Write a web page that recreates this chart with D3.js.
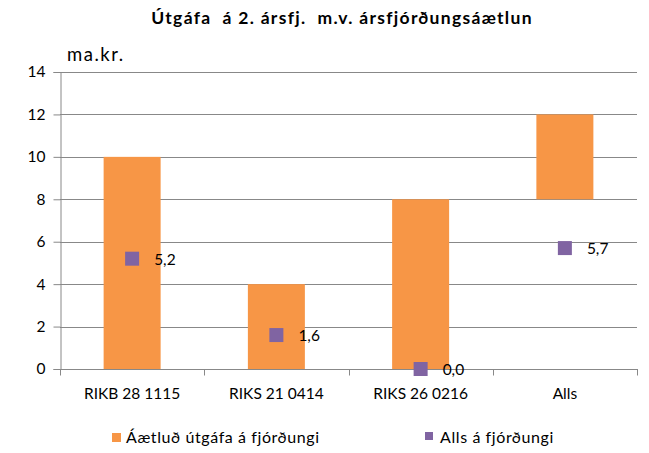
<!DOCTYPE html>
<html>
<head>
<meta charset="utf-8">
<script src="https://cdn.jsdelivr.net/npm/d3@7"></script>
<style>
  html, body { margin: 0; padding: 0; background: #fff; }
  svg { display: block; font-family: Lato, "Open Sans", sans-serif; }
  text { white-space: pre; }
</style>
</head>
<body>
<svg id="chart" width="649" height="453"></svg>
<script>
// Bonds and the total
const categories = ["RIKB 28 1115", "RIKS 21 0414", "RIKS 26 0216", "Alls"];
// Planned issuance for the quarter, drawn as floating bars [start, end]
const plannedStart = [0, 0, 0, 8];
const plannedEnd = [10, 4, 8, 12];
// Issued so far in the quarter
const issuedInQuarter = [5.2, 1.6, 0.0, 5.7];
const yTicks = [0, 2, 4, 6, 8, 10, 12, 14];

const titleText = "Útgáfa  á 2. ársfj.  m.v. ársfjórðungsáætlun";
const unitText = "ma.kr.";
const legendPlanned = "Áætluð útgáfa á fjórðungi";
const legendIssued = "Alls á fjórðungi";

const orange = "#F79646";
const purple = "#8064A2";
const gridColor = "#888888";

const svg = d3.select("#chart");
const plotLeft = 60, plotRight = 637, plotTop = 72, plotBottom = 369;

const x = d3.scaleBand().domain(categories).range([plotLeft, plotRight]).paddingInner(0).paddingOuter(0);
const y = d3.scaleLinear().domain([0, 14]).range([plotBottom, plotTop]);

const fmt = v => v.toFixed(1).replace(".", ",");

// Title
svg.append("text")
  .attr("x", 342).attr("y", 24)
  .attr("text-anchor", "middle")
  .attr("font-size", 17.5).attr("font-weight", "bold")
  .attr("letter-spacing", 1.3)
  .attr("fill", "#000")
  .text(titleText);

// Unit label
svg.append("text")
  .attr("x", 67).attr("y", 61)
  .attr("font-size", 18.5).attr("letter-spacing", 1.5).attr("fill", "#000")
  .text(unitText);

// Horizontal gridlines
svg.append("g")
  .selectAll("line")
  .data(yTicks.filter(t => t > 0))
  .join("line")
  .attr("x1", plotLeft).attr("x2", plotRight)
  .attr("y1", d => Math.round(y(d)) + 0.5).attr("y2", d => Math.round(y(d)) + 0.5)
  .attr("stroke", gridColor).attr("stroke-width", 1);

// Y axis
const yAxis = svg.append("g")
  .attr("transform", `translate(${plotLeft + 0.5},0)`)
  .call(d3.axisLeft(y).tickValues(yTicks).tickSize(7).tickPadding(8).tickFormat(d3.format("d")));
yAxis.select(".domain").attr("stroke", gridColor);
yAxis.selectAll(".tick line").attr("stroke", gridColor);
yAxis.selectAll(".tick text").attr("font-size", 15.5).attr("fill", "#000")
  .attr("font-family", "Lato, 'Open Sans', sans-serif");

// Floating bars
const barW = 57;
svg.append("g")
  .selectAll("rect")
  .data(categories)
  .join("rect")
  .attr("x", (d) => x(d) + x.bandwidth() / 2 - barW / 2)
  .attr("width", barW)
  .attr("y", (d, i) => y(plannedEnd[i]))
  .attr("height", (d, i) => y(plannedStart[i]) - y(plannedEnd[i]))
  .attr("fill", orange);

// X axis
const xAxisG = svg.append("g").attr("transform", `translate(0,${plotBottom + 0.5})`);
xAxisG.append("line")
  .attr("x1", plotLeft).attr("x2", plotRight + 1)
  .attr("stroke", gridColor);
const boundaries = categories.map(c => x(c)).concat([plotRight]);
xAxisG.selectAll("line.tk")
  .data(boundaries)
  .join("line").attr("class", "tk")
  .attr("x1", d => Math.round(d) + 0.5).attr("x2", d => Math.round(d) + 0.5)
  .attr("y1", 0).attr("y2", 6)
  .attr("stroke", gridColor);
xAxisG.selectAll("text")
  .data(categories)
  .join("text")
  .attr("x", d => x(d) + x.bandwidth() / 2)
  .attr("y", 29)
  .attr("text-anchor", "middle")
  .attr("font-size", 15.5).attr("fill", "#000")
  .text(d => d);

// Markers for issued amounts
const mk = 14;
const markers = svg.append("g");
markers.selectAll("rect")
  .data(categories)
  .join("rect")
  .attr("x", d => x(d) + x.bandwidth() / 2 - mk / 2)
  .attr("y", (d, i) => y(issuedInQuarter[i]) - mk / 2)
  .attr("width", mk).attr("height", mk)
  .attr("fill", purple);
markers.selectAll("text")
  .data(categories)
  .join("text")
  .attr("x", d => x(d) + x.bandwidth() / 2 + 22)
  .attr("y", (d, i) => y(issuedInQuarter[i]) + 6)
  .attr("font-size", 15.5).attr("fill", "#000")
  .text((d, i) => fmt(issuedInQuarter[i]));

// Legend
const legend = svg.append("g");
legend.append("rect").attr("x", 112).attr("y", 433).attr("width", 9).attr("height", 9).attr("fill", orange);
legend.append("text").attr("x", 126).attr("y", 443).attr("font-size", 16).attr("letter-spacing", 0.6).attr("fill", "#000").text(legendPlanned);
legend.append("rect").attr("x", 425).attr("y", 432).attr("width", 8).attr("height", 8).attr("fill", purple);
legend.append("text").attr("x", 440).attr("y", 443).attr("font-size", 16).attr("letter-spacing", 0.6).attr("fill", "#000").text(legendIssued);
</script>
</body>
</html>
